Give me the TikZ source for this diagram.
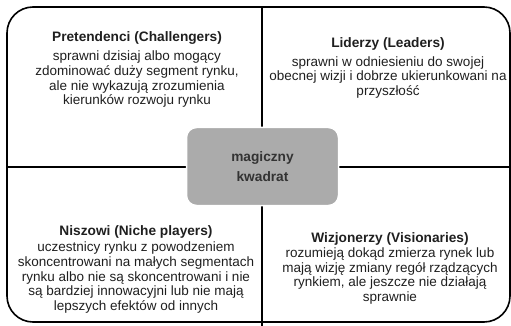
\documentclass[tikz,border=0pt]{standalone}
\usepackage{fontspec}
\setmainfont{Liberation Sans}
\begin{document}
\begin{tikzpicture}[x=1pt,y=-1pt,
  frame/.style={line width=1.6pt, draw=black},
  sep/.style={line width=2pt, draw=black},
  qtitle/.style={font=\fontsize{13.7}{14.7}\selectfont\bfseries, text=black!88, inner sep=0pt, anchor=base},
  qbody/.style={font=\fontsize{13.5}{14.7}\selectfont, text=black!88, align=center, inner sep=0pt, anchor=north},
  magic/.style={fill=black!33, draw=white, line width=1.5pt, rounded corners=10pt, minimum width=152pt, minimum height=78pt, font=\fontsize{13.7}{20.3}\selectfont\bfseries, text=black!80, align=center}
]
\useasboundingbox (0,0) rectangle (511,326);
\draw[frame, rounded corners=26pt] (7,7) rectangle (510,322);
\coordinate (hl) at (7,167);
\coordinate (hr) at (511,167);
\coordinate (vt) at (262,7);
\coordinate (vb) at (262,326);
\draw[sep] (hl) -- (hr);
\draw[sep] (vt) -- (vb);
\node[magic] (m) at (262.5,166.5) {magiczny\\kwadrat};

\node[qtitle] (t1) at (137,41.7) {Pretendenci (Challengers)};
\node[qbody] (b1) at (137,50.8) {sprawni dzisiaj albo mogący\\zdominować duży segment rynku,\\ale nie wykazują zrozumienia\\kierunków rozwoju rynku};

\node[qtitle] (t2) at (388,47.5) {Liderzy (Leaders)};
\node[qbody] (b2) at (388,56.1) {sprawni w odniesieniu do swojej\\obecnej wizji i dobrze ukierunkowani na\\przyszłość};

\node[qtitle] (t3) at (136,235) {Niszowi (Niche players)};
\node[qbody] (b3) at (136,241.8) {uczestnicy rynku z powodzeniem\\skoncentrowani na małych segmentach\\rynku albo nie są skoncentrowani i nie\\są bardziej innowacyjni lub nie mają\\lepszych efektów od innych};

\node[qtitle] (t4) at (390,242) {Wizjonerzy (Visionaries)};
\node[qbody] (b4) at (390,247.4) {rozumieją dokąd zmierza rynek lub\\mają wizję zmiany regół rządzących\\rynkiem, ale jeszcze nie działają\\sprawnie};
\end{tikzpicture}
\end{document}
